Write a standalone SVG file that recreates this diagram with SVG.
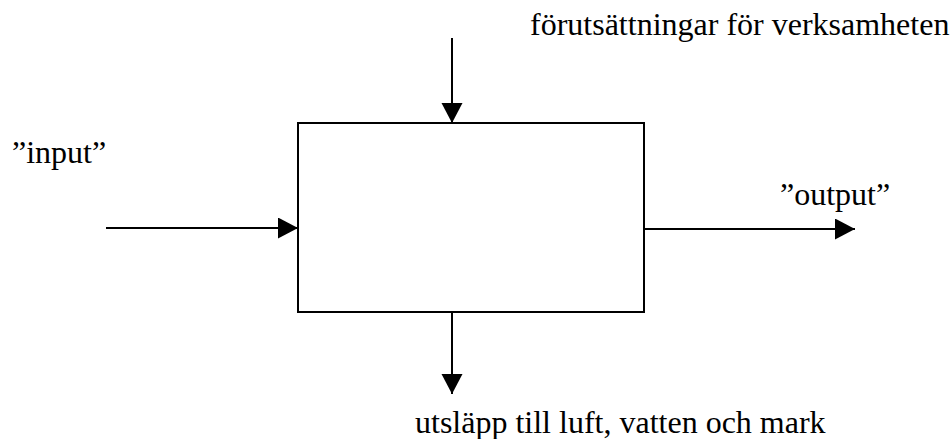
<svg xmlns="http://www.w3.org/2000/svg" width="951" height="439" viewBox="0 0 951 439">
<style>
text{font-family:'Liberation Serif','DejaVu Serif','Times New Roman',serif;font-size:32px;fill:#000}
.c{stroke:#000;stroke-width:2;fill:none}
</style>
<defs>
<marker id="a" markerUnits="userSpaceOnUse" markerWidth="22" markerHeight="22" refX="20" refY="10.5" orient="auto">
<path d="M0,0 L20,10.5 L0,21 Z" fill="#000"/>
</marker>
</defs>
<rect width="951" height="439" fill="#fff"/>
<g id="process">
<rect x="298" y="123" width="346" height="189" fill="#fff" stroke="#000" stroke-width="2"/>
</g>
<g id="connectors">
<line class="c" x1="452" y1="38" x2="452" y2="123" marker-end="url(#a)"/>
<line class="c" x1="106" y1="228" x2="298" y2="228" marker-end="url(#a)"/>
<line class="c" x1="644" y1="229" x2="855" y2="229" marker-end="url(#a)"/>
<line class="c" x1="452" y1="312" x2="452" y2="394" marker-end="url(#a)"/>
</g>
<g id="labels">
<text x="530" y="35" font-family="Liberation Serif">förutsättningar för verksamheten</text>
<text x="12" y="163" font-family="Liberation Serif">”input”</text>
<text x="780" y="205" font-family="Liberation Serif">”output”</text>
<text x="415" y="433" font-family="Liberation Serif">utsläpp till luft, vatten och mark</text>
</g>
</svg>
